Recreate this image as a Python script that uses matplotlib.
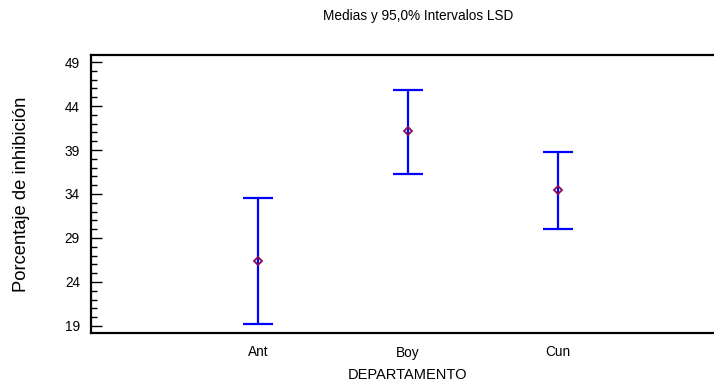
import matplotlib
matplotlib.use("Agg")
import matplotlib.pyplot as plt
from matplotlib.ticker import MultipleLocator

# values
departamentos = ["Ant", "Boy", "Cun"]
medias = [26.4, 41.2, 34.4]
lsd_inferior = [19.2, 36.3, 30.0]
lsd_superior = [33.6, 45.8, 38.8]
y_ticks = [19, 24, 29, 34, 39, 44, 49]

plt.rcParams["font.family"] = ["Liberation Sans", "DejaVu Sans"]

fig = plt.figure(figsize=(7.14, 3.82), dpi=100)
ax = fig.add_axes([91 / 714, 49 / 382, 654 / 714, 278 / 382])

x = list(range(1, len(departamentos) + 1))
err_low = [m - lo for m, lo in zip(medias, lsd_inferior)]
err_high = [hi - m for m, hi in zip(medias, lsd_superior)]

ax.errorbar(x, medias, yerr=[err_low, err_high], fmt="none",
            ecolor="#0000ff", elinewidth=1.6, capsize=11, capthick=1.6, zorder=2)
ax.plot(x, medias, linestyle="none", marker="D", markersize=4.5,
        markerfacecolor="none", markeredgecolor="#8b0a50", markeredgewidth=1.3, zorder=3)

ax.set_xlim(-0.113, 4.247)
ax.set_ylim(18.2, 49.8)
ax.set_xticks(x)
ax.set_xticklabels(departamentos)
ax.set_yticks(y_ticks)
ax.yaxis.set_minor_locator(MultipleLocator(1))

ax.tick_params(axis="x", length=0, pad=9, labelsize=9.8)
ax.tick_params(axis="y", which="major", direction="in", length=8, width=1, labelsize=9.8, pad=8)
ax.tick_params(axis="y", which="minor", direction="in", length=4, width=1)

for s in ax.spines.values():
    s.set_linewidth(1.6)

ax.set_title("Medias y 95,0% Intervalos LSD", fontsize=9.8, pad=25,
             x=(418 - 91) / 654)
ax.set_xlabel("DEPARTAMENTO", fontsize=10.5)
ax.xaxis.set_label_coords((408 - 91) / 654, -0.125)
ax.set_ylabel("Porcentaje de inhibición", fontsize=13.2)
ax.yaxis.set_label_coords(-0.094, 0.5)

fig.savefig("out.png", dpi=100)
